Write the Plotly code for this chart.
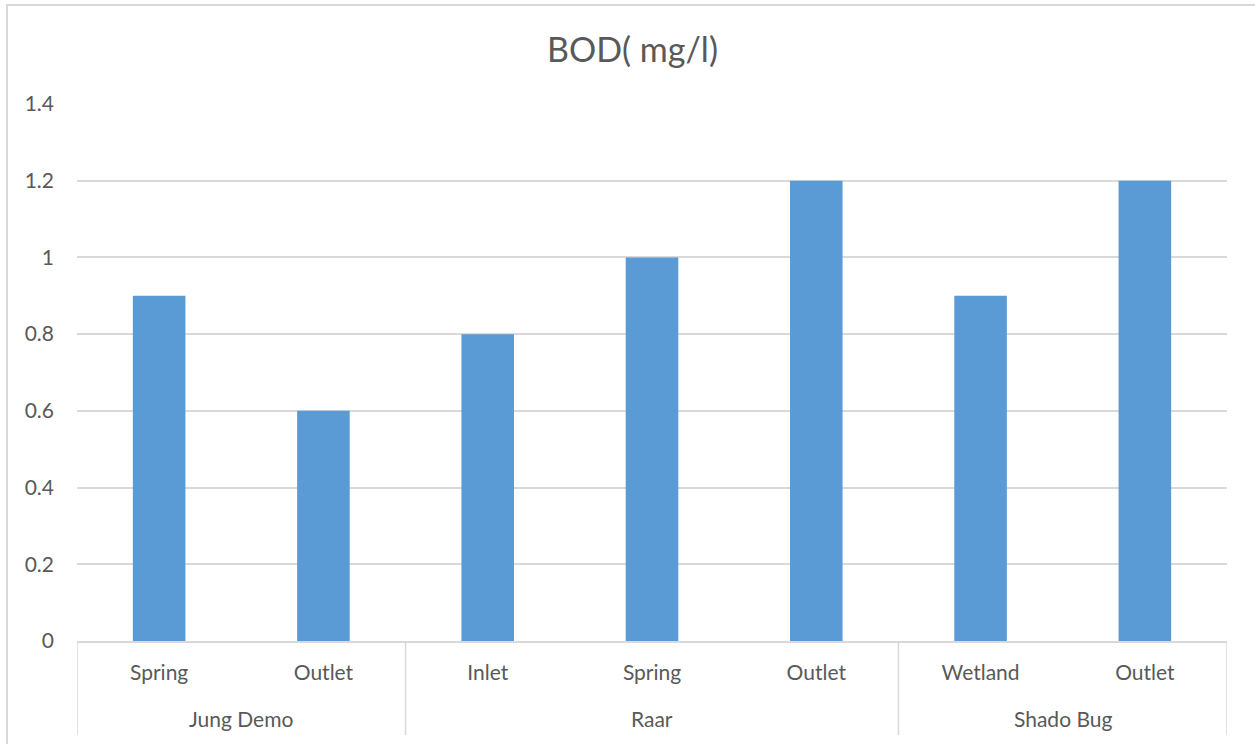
import plotly.graph_objects as go

# Sampling sites grouped by location
sites = ["Jung Demo", "Jung Demo", "Raar", "Raar", "Raar", "Shado Bug", "Shado Bug"]
points = ["Spring", "Outlet", "Inlet", "Spring", "Outlet", "Wetland", "Outlet"]
bod = [0.9, 0.6, 0.8, 1.0, 1.2, 0.9, 1.2]
y_ticks = [0, 0.2, 0.4, 0.6, 0.8, 1, 1.2, 1.4]
y_tick_text = ["0", "0.2", "0.4", "0.6", "0.8", "1", "1.2", "1.4"]

TEXT = "#595959"
GRID = "#D9D9D9"
FONT = "Lato, Open Sans, sans-serif"

# unique category key per bar, labelled with the sampling point
keys = [f"{s}/{p}" for s, p in zip(sites, points)]

fig = go.Figure(
    go.Bar(
        x=keys,
        y=bod,
        marker=dict(color="#5B9BD5", line=dict(width=0)),
        width=0.32,
    )
)

W, H = 1255, 744
L, R, T, B = 77, 28, 104, 103
pw, ph = W - L - R, H - T - B

# group spans (first index, last index) in order of appearance
groups = []
for i, s in enumerate(sites):
    if groups and groups[-1][0] == s:
        groups[-1][2] = i
    else:
        groups.append([s, i, i])

shapes = [
    # chart frame
    dict(
        type="rect",
        xref="paper",
        yref="paper",
        x0=(7 - L) / pw,
        x1=(W + 10 - L) / pw,
        y0=-(B + 10) / ph,
        y1=(H - 5 - B) / ph,
        line=dict(color=GRID, width=2),
        fillcolor="rgba(0,0,0,0)",
        layer="below",
    )
]
annotations = []
bounds = [g[1] - 0.5 for g in groups] + [groups[-1][2] + 0.5]
for b in bounds:
    shapes.append(
        dict(
            type="line",
            xref="x",
            yref="paper",
            x0=b,
            x1=b,
            y0=0,
            y1=-94 / ph,
            line=dict(color=GRID, width=1.5),
        )
    )
for name, i0, i1 in groups:
    annotations.append(
        dict(
            text=name,
            xref="x",
            yref="paper",
            x=(i0 + i1) / 2,
            y=-77 / ph,
            xanchor="center",
            yanchor="middle",
            showarrow=False,
            font=dict(size=21, color=TEXT, family=FONT),
        )
    )

fig.update_layout(
    width=W,
    height=H,
    margin=dict(l=L, r=R, t=T, b=B),
    paper_bgcolor="white",
    plot_bgcolor="white",
    font=dict(family=FONT, color=TEXT, size=21),
    title=dict(
        text="BOD( mg/l)",
        x=0.5 + 5 / W,
        xanchor="center",
        y=1 - 50 / H,
        yanchor="middle",
        font=dict(size=34, color=TEXT, family=FONT),
    ),
    showlegend=False,
    xaxis=dict(
        type="category",
        range=[-0.5, len(keys) - 0.5],
        tickvals=keys,
        ticktext=points,
        showgrid=False,
        showline=True,
        linecolor=GRID,
        linewidth=1.5,
        ticks="",
        ticklabelstandoff=12,
        tickfont=dict(size=21, color=TEXT),
    ),
    yaxis=dict(
        range=[0, 1.4],
        tickvals=y_ticks,
        ticktext=y_tick_text,
        showgrid=True,
        gridcolor=GRID,
        gridwidth=1.5,
        zeroline=False,
        showline=False,
        ticks="",
        ticklabelstandoff=22,
        tickfont=dict(size=21, color=TEXT),
    ),
    shapes=shapes,
    annotations=annotations,
)

fig.write_html("out.html")
